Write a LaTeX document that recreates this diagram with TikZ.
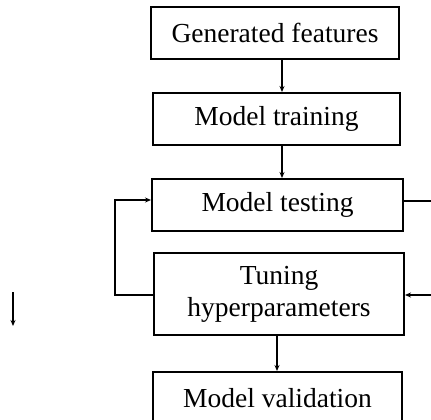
\documentclass[tikz,border=0pt]{standalone}
\usepackage{fontspec}
\setmainfont{Liberation Serif}
\usetikzlibrary{arrows.meta,calc}
\begin{document}
\begin{tikzpicture}[x=1pt,y=1pt,
  box/.style={draw,line width=2pt,inner sep=0pt,align=center,
    font=\fontsize{27.5}{32}\selectfont},
  arr/.style={line width=2pt,-{Stealth[length=6pt,width=5pt]}},
  ln/.style={line width=2pt}]
\useasboundingbox (0,0) rectangle (431,-420);
\clip (0,0) rectangle (431,-420);

% process boxes
\node[box,minimum width=248,minimum height=52] (gen)  at (275,-33)    {Generated features};
\node[box,minimum width=247,minimum height=52] (train) at (276.5,-119) {Model training};
\node[box,minimum width=251,minimum height=52] (test)  at (277.5,-205) {Model testing};
\node[box,minimum width=250,minimum height=82] (tune)  at (279,-294)   {Tuning\\hyperparameters};
\node[box,minimum width=249,minimum height=52] (valid) at (277.5,-398) {Model validation};

% helper points for the connectors
\coordinate (ax) at (282,0);
\coordinate (bx) at (277,0);
\coordinate (lx) at (115,-200);
\coordinate (rtop) at (445,-201);
\coordinate (rbot) at (445,-295);
\coordinate (s1) at (13,-292);
\coordinate (s2) at (13,-326);

% main flow
\draw[arr] (gen.south -| ax) -- (train.north -| ax);
\draw[arr] (train.south -| ax) -- (test.north -| ax);
\draw[arr] (tune.south -| bx) -- (valid.north -| bx);

% feedback loop on the left
\draw[arr] ([yshift=-1pt]tune.west) -| (lx) -- ([yshift=5pt]test.west);

% loop on the right
\draw[ln] ([yshift=4pt]test.east) -- (rtop);
\draw[arr] (rbot) -- ([yshift=-1pt]tune.east);

% lone arrow
\draw[arr] (s1) -- (s2);
\end{tikzpicture}
\end{document}
